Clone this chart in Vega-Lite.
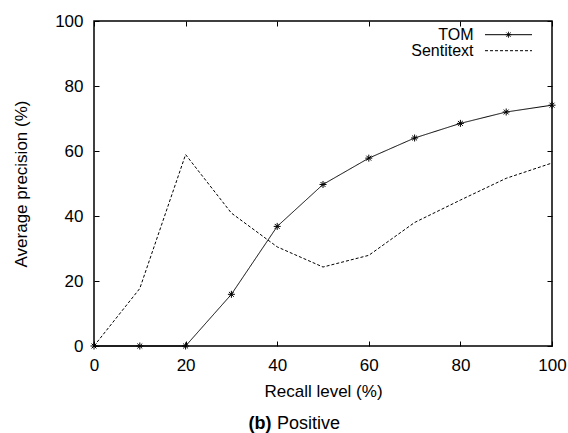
{
  "$schema": "https://vega.github.io/schema/vega-lite/v6.json",
  "autosize": "none",
  "padding": {"left": 94, "top": 21, "right": 16, "bottom": 87},
  "width": 458,
  "height": 325,
  "background": "white",
  "config": {
    "font": "Liberation Sans",
    "view": {"stroke": "black", "strokeWidth": 1.5},
    "axis": {"grid": false, "domain": false, "ticks": true, "tickOpacity": 1, "zindex": 1, "labelFlush": false, "tickColor": "black", "tickSize": 5, "tickWidth": 1, "offset": -5, "labelFont": "Liberation Sans", "labelFontSize": 17, "labelColor": "black", "titleFont": "Liberation Sans", "titleFontSize": 17, "titleFontWeight": "normal", "titleColor": "black"}
  },
  "data": {
    "values": [
      {"series": "TOM", "recall": 0, "precision": 0},
      {"series": "TOM", "recall": 10, "precision": 0},
      {"series": "TOM", "recall": 20, "precision": 0},
      {"series": "TOM", "recall": 30, "precision": 15.9},
      {"series": "TOM", "recall": 40, "precision": 36.8},
      {"series": "TOM", "recall": 50, "precision": 49.7},
      {"series": "TOM", "recall": 60, "precision": 57.8},
      {"series": "TOM", "recall": 70, "precision": 64},
      {"series": "TOM", "recall": 80, "precision": 68.5},
      {"series": "TOM", "recall": 90, "precision": 72},
      {"series": "TOM", "recall": 100, "precision": 74.1},
      {"series": "Sentitext", "recall": 0, "precision": 0},
      {"series": "Sentitext", "recall": 10, "precision": 17.7},
      {"series": "Sentitext", "recall": 20, "precision": 58.9},
      {"series": "Sentitext", "recall": 30, "precision": 40.9},
      {"series": "Sentitext", "recall": 40, "precision": 30.5},
      {"series": "Sentitext", "recall": 50, "precision": 24.3},
      {"series": "Sentitext", "recall": 60, "precision": 27.9},
      {"series": "Sentitext", "recall": 70, "precision": 38},
      {"series": "Sentitext", "recall": 80, "precision": 44.9},
      {"series": "Sentitext", "recall": 90, "precision": 51.6},
      {"series": "Sentitext", "recall": 100, "precision": 56.3}
    ]
  },
  "layer": [
    {
      "mark": {"type": "line", "color": "black", "strokeWidth": 1},
      "encoding": {
        "x": {"field": "recall", "type": "quantitative", "scale": {"domain": [0, 100], "nice": false}, "axis": {"title": "Recall level (%)", "values": [0, 20, 40, 60, 80, 100], "ticks": true, "tickSize": 5, "tickColor": "black", "labelPadding": 11, "titlePadding": 10, "orient": "bottom"}},
        "y": {"field": "precision", "type": "quantitative", "scale": {"domain": [0, 100], "nice": false}, "axis": {"title": "Average precision (%)", "values": [0, 20, 40, 60, 80, 100], "ticks": true, "tickSize": 5, "tickColor": "black", "labelPadding": 11, "titlePadding": 24, "orient": "left"}},
        "strokeDash": {
          "field": "series", "type": "nominal",
          "scale": {"domain": ["TOM", "Sentitext"], "range": [[1, 0], [3, 2]]},
          "legend": {
            "title": null,
            "orient": "none",
            "legendX": 406.5,
            "legendY": 5.7,
            "symbolType": "M-4,0H4",
            "symbolSize": 138,
            "symbolStrokeWidth": 1,
            "symbolStrokeColor": "black",
            "labelAlign": "right",
            "labelOffset": -43,
            "labelFontSize": 16,
            "labelColor": "black",
            "rowPadding": 0,
            "labelLimit": 200,
            "encode": {"symbols": {"update": {"shape": {"signal": "datum.label === 'TOM' ? 'M-4,0H4M-0.5,0H0.5M0,-0.5V0.5M-0.36,-0.36L0.36,0.36M-0.36,0.36L0.36,-0.36' : 'M-4,0H4'"}}}}
          }
        }
      }
    },
    {
      "transform": [{"filter": "datum.series === 'TOM'"}],
      "mark": {"type": "point", "shape": "M-1,0H1M0,-1V1M-0.7,-0.7L0.7,0.7M-0.7,0.7L0.7,-0.7", "size": 49, "filled": false, "color": "black", "strokeWidth": 1, "opacity": 1, "clip": false},
      "encoding": {
        "x": {"field": "recall", "type": "quantitative", "axis": {"orient": "top", "labels": false, "title": null, "ticks": true, "tickSize": 5, "tickColor": "black", "values": [0, 20, 40, 60, 80, 100]}},
        "y": {"field": "precision", "type": "quantitative", "axis": {"orient": "right", "labels": false, "title": null, "ticks": true, "tickSize": 5, "tickColor": "black", "values": [0, 20, 40, 60, 80, 100]}}
      }
    },
    {
      "mark": {"type": "point", "opacity": 0},
      "encoding": {
        "x": {"field": "recall", "type": "quantitative", "axis": {"orient": "bottom", "offset": 0, "labels": false, "ticks": false, "domain": false, "title": "(b)", "titleFontWeight": "bold", "titleFontSize": 18, "titleAlign": "left", "titleBaseline": "alphabetic", "titleAnchor": null, "titleX": 154, "titleY": 82.5}},
        "y": {"field": "precision", "type": "quantitative", "axis": null}
      }
    },
    {
      "mark": {"type": "point", "opacity": 0},
      "encoding": {
        "x": {"field": "recall", "type": "quantitative", "axis": {"orient": "bottom", "offset": 0, "labels": false, "ticks": false, "domain": false, "title": "Positive", "titleFontWeight": "normal", "titleFontSize": 18, "titleAlign": "left", "titleBaseline": "alphabetic", "titleAnchor": null, "titleX": 182.5, "titleY": 82.5}},
        "y": {"field": "precision", "type": "quantitative", "axis": null}
      }
    }
  ]
}
